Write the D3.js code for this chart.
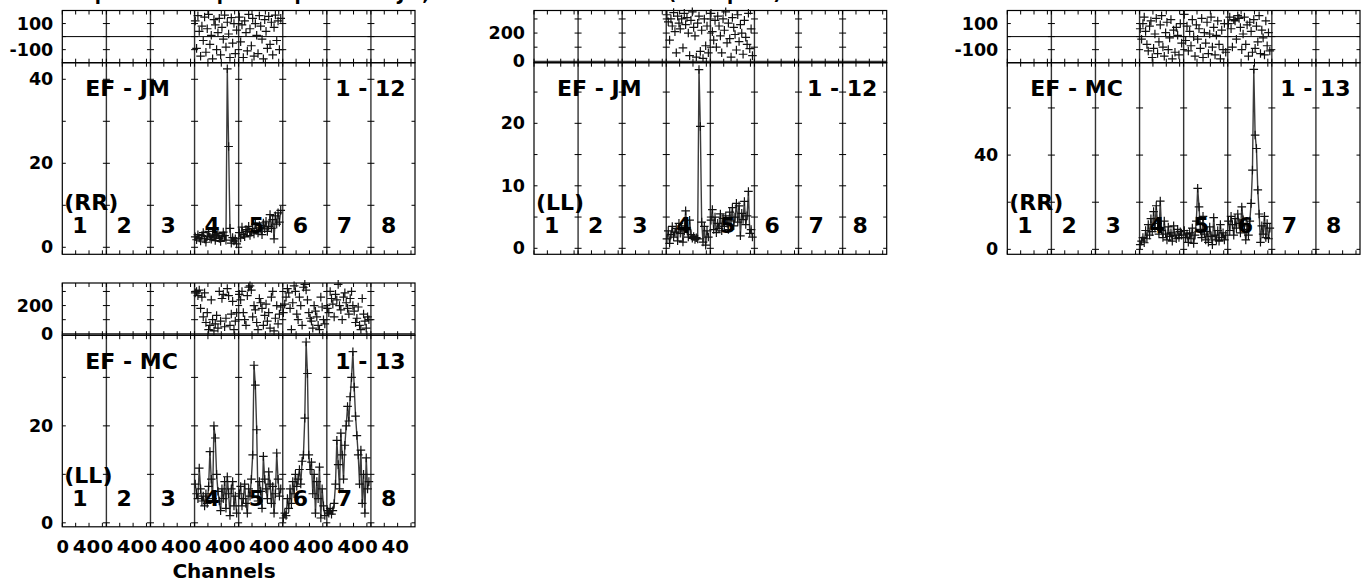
<!DOCTYPE html>
<html><head><meta charset="utf-8">
<script src="https://cdn.jsdelivr.net/npm/d3@7"></script>
<style>
body{margin:0;background:#fff}
svg{display:block}
text{font-family:"DejaVu Sans",sans-serif;font-weight:bold;fill:#000}
</style>
</head><body>
<svg id="c" width="1367" height="583"></svg>
<script>
// ---------- data ----------
const ifNames = ["1","2","3","4","5","6","7","8"];
const channels = [1,3,5,7,9,11,13,15,17,19,21,23,25,27,29,31,33,35,37,39,41,43,45,47,49,51,53,55,57,59,61,63];
const chTicks = [0,20,40,60];
const chTickLabels = [0,40];

// EF - JM  (RR)
const jmRR_amp4 = [2.5,1.8,3.0,2.2,1.5,2.8,3.5,2.0,1.2,2.6,3.8,2.4,1.9,3.1,2.7,1.6,2.9,3.3,2.1,1.4,2.5,3.6,2.8,1.7,42.5,24.0,4.5,1.0,2.3,1.5,2.0,0.8];
const jmRR_amp5 = [3.5,2.2,4.8,3.0,2.5,4.2,3.8,5.0,2.8,3.6,4.5,3.2,5.5,4.0,3.4,5.2,4.6,3.0,5.8,4.4,6.2,3.8,5.0,7.8,4.5,6.6,2.0,7.5,5.5,8.2,6.0,8.8];
const jmRR_ph4 = [120,-90,160,40,-150,80,-30,150,-120,60,170,-60,10,-170,130,90,-100,30,140,-140,70,-20,165,-80,110,20,-160,145,-50,100,-130,50];
const jmRR_ph5 = [150,-40,90,-160,120,30,-110,170,60,-70,140,-150,100,10,-130,160,80,-20,-170,130,40,-90,155,-60,110,-140,70,165,-30,120,-100,140];

// EF - JM  (LL)
const jmLL_amp4 = [1.5,2.8,0.8,2.2,3.5,1.8,2.6,3.2,1.2,4.0,2.4,3.6,1.0,2.8,6.0,3.0,1.8,4.5,2.2,1.6,1.9,1.4,1.7,1.5,28.6,19.5,4.2,1.0,3.5,0.5,2.8,1.8];
const jmLL_amp5 = [4.5,6.2,3.0,5.0,2.5,4.0,3.2,5.5,2.8,4.8,3.5,5.2,4.0,3.0,5.8,4.4,6.5,3.6,5.0,7.2,4.2,6.8,2.0,5.6,4.6,7.5,3.8,5.2,9.1,2.4,3.0,1.8];
const jmLL_ph4 = [330,280,150,300,250,345,210,60,320,270,230,300,95,340,260,310,200,40,290,350,240,180,30,270,320,70,220,20,300,110,250,60];
const jmLL_ph5 = [340,210,150,290,100,320,250,180,60,300,220,350,130,270,160,30,310,240,190,80,330,140,260,200,50,290,170,120,340,90,230,40];

// EF - MC  (RR)
const mcRR_amp4 = [2.0,3.5,5.0,2.8,8.0,4.5,10.5,6.0,13.0,7.5,16.0,9.0,18.5,11.0,6.5,20.5,8.0,5.0,12.0,6.5,4.0,9.5,5.5,7.0,3.5,10.0,6.0,4.5,8.5,5.0,7.5,6.0];
const mcRR_amp5 = [8.0,5.0,6.5,3.0,7.0,4.5,9.0,2.5,6.0,12.0,25.9,18.0,8.5,5.0,14.0,6.5,4.0,7.5,3.0,9.5,5.5,2.0,13.5,6.0,4.0,8.0,3.5,10.5,5.0,7.0,4.0,6.0];
const mcRR_amp6 = [12.0,8.0,14.0,10.5,6.0,13.0,9.0,15.0,11.0,7.0,18.0,12.5,8.5,4.0,10.0,6.0,12.0,19.5,33.6,76.4,48.5,42.8,25.2,15.0,3.0,10.0,6.5,14.0,5.0,11.0,4.5,9.0];
const mcRR_ph4 = [60,-20,100,150,40,-60,-110,80,120,-160,-90,20,140,-130,-40,90,160,-80,-150,30,110,-100,-10,130,-170,50,-120,70,10,-140,100,-50];
const mcRR_ph5 = [170,-30,80,-110,40,-70,130,0,-150,90,-20,60,-90,140,-160,30,-50,110,-130,20,150,-80,70,-140,10,120,-60,-170,50,-100,100,-120];
const mcRR_ph6 = [100,150,60,-80,130,120,-20,160,140,70,-100,20,150,-60,90,-150,110,40,-120,130,-90,80,-40,160,-130,50,-10,-140,120,-70,30,-110];

// EF - MC  (LL)
const mcLL_amp4 = [8.0,6.0,5.0,11.3,7.0,4.5,5.5,3.5,6.0,4.0,7.5,14.7,9.0,5.0,20.0,17.5,10.0,6.5,4.5,2.5,7.0,5.0,8.5,3.0,9.5,6.0,1.5,7.0,8.5,3.5,5.5,2.0];
const mcLL_amp5 = [6.0,7.5,3.5,5.0,8.0,4.0,2.0,7.0,5.5,9.0,14.0,32.5,28.4,19.2,4.5,8.5,6.5,3.0,13.7,9.0,7.0,5.0,10.5,8.0,4.0,7.5,2.0,6.0,14.4,9.0,5.5,7.0];
const mcLL_amp6 = [1.0,2.0,1.5,5.0,3.0,7.0,4.0,8.5,6.0,10.0,7.5,9.0,11.0,8.0,12.7,14.0,21.6,37.3,30.8,14.0,11.0,12.5,6.0,10.0,2.0,8.5,5.0,11.5,1.0,7.0,3.5,1.5];
const mcLL_amp7 = [2.5,2.0,3.0,1.8,2.5,4.0,8.0,17.0,12.0,7.0,18.5,14.0,9.0,16.0,20.0,24.0,21.0,26.0,30.0,35.3,28.0,22.0,18.0,14.0,8.0,15.0,4.0,10.0,2.0,13.4,7.0,8.5];
const mcLL_ph4 = [290,300,270,310,180,260,120,290,80,150,30,60,240,100,20,70,130,40,300,90,250,280,50,110,320,270,60,140,230,30,90,150];
const mcLL_ph5 = [280,240,300,150,100,60,270,330,340,310,120,200,170,80,30,250,220,180,60,130,210,90,150,40,260,300,20,110,200,70,140,190];
const mcLL_ph6 = [150,210,260,320,290,180,30,220,340,300,140,100,260,200,60,330,350,310,240,150,110,90,40,200,160,120,60,30,260,190,100,70];
const mcLL_ph7 = [180,150,300,250,210,120,280,240,350,200,170,100,260,290,220,180,140,250,300,200,160,80,110,190,60,30,250,140,90,40,120,100];

// axis tick values
const phTicksA = [-100,0,100], phLabelsA = [-100,100];
const phTicksB = [100,200,300], phLabelsB = [0,200];

// ---------- panel table built from the arrays ----------
const panels = [
  {col:0,row:0,base:"EF - JM",rng:"1 - 12",pol:"(RR)",phDom:[-200,200],phT:phTicksA,phL:phLabelsA,zero:0,
   ampDom:[-1.67,43.95],ampT:[0,10,20,30,40],ampL:[0,20,40],
   amp:[[4,jmRR_amp4],[5,jmRR_amp5]],ph:[[4,jmRR_ph4],[5,jmRR_ph5]],xlab:false},
  {col:1,row:0,base:"EF - JM",rng:"1 - 12",pol:"(LL)",phDom:[-10,360],phT:phTicksB,phL:phLabelsB,zero:0,
   ampDom:[-0.96,29.7],ampT:[0,5,10,15,20,25],ampL:[0,10,20],
   amp:[[4,jmLL_amp4],[5,jmLL_amp5]],ph:[[4,jmLL_ph4],[5,jmLL_ph5]],xlab:false},
  {col:2,row:0,base:"EF - MC",rng:"1 - 13",pol:"(RR)",phDom:[-200,200],phT:phTicksA,phL:phLabelsA,zero:0,
   ampDom:[-2.1,79.2],ampT:[0,20,40,60],ampL:[0,40],
   amp:[[4,mcRR_amp4],[5,mcRR_amp5],[6,mcRR_amp6]],ph:[[4,mcRR_ph4],[5,mcRR_ph5],[6,mcRR_ph6]],xlab:false},
  {col:0,row:1,base:"EF - MC",rng:"1 - 13",pol:"(LL)",phDom:[-10,360],phT:phTicksB,phL:phLabelsB,zero:0,
   ampDom:[-0.82,38.7],ampT:[0,10,20,30],ampL:[0,20],
   amp:[[4,mcLL_amp4],[5,mcLL_amp5],[6,mcLL_amp6],[7,mcLL_amp7]],ph:[[4,mcLL_ph4],[5,mcLL_ph5],[6,mcLL_ph6],[7,mcLL_ph7]],xlab:true}
];

// ---------- layout ----------
const colLeft = [62.3, 534, 1007.3];
const rowTop = [10.5, 283];
const W = 352.7, ifW = W/8, phH = 52.2, ampH = 191.6;
const svg = d3.select("#c");

// title line, cut off at the very top edge as in the source plot
svg.append("text").attr("x",62).attr("y",0).attr("font-size",18)
  .text("Amplitude and phase spectra  EF-JM,  EF-MC          Calibrated  data  (bandpass)");

function plus(x,y,s){return `M${x-s},${y}h${2*s}M${x},${y-s}v${2*s}`;}

panels.forEach(p=>{
  const x0 = colLeft[p.col], phTop = rowTop[p.row], ampTop = phTop+phH, ampBot = ampTop+ampH;
  const yPh = d3.scaleLinear().domain(p.phDom).range([ampTop, phTop]);
  const yAmp = d3.scaleLinear().domain(p.ampDom).range([ampBot, ampTop]);
  const xIF = i => d3.scaleLinear().domain([0,66]).range([x0+i*ifW, x0+(i+1)*ifW]);
  const g = svg.append("g");

  // phase zero line
  g.append("line").attr("x1",x0).attr("x2",x0+W).attr("y1",yPh(p.zero)).attr("y2",yPh(p.zero))
    .attr("stroke","#000").attr("stroke-width",1);

  // IF dividers
  for(let k=1;k<8;k++){
    g.append("line").attr("x1",x0+k*ifW).attr("x2",x0+k*ifW).attr("y1",phTop).attr("y2",ampBot)
      .attr("stroke","#333").attr("stroke-width",1.4);
  }
  // y ticks on every IF boundary
  const tk = [];
  for(let k=0;k<=8;k++){
    const bx = x0+k*ifW, l = k>0?3.5:0, r = k<8?3.5:0;
    p.phT.forEach(t=>tk.push(`M${bx-l},${yPh(t)}H${bx+r}`));
    p.ampT.forEach(t=>tk.push(`M${bx-l},${yAmp(t)}H${bx+r}`));
  }
  // x ticks
  for(let i=0;i<8;i++){
    const xs = xIF(i);
    chTicks.forEach(t=>{
      const x = xs(t);
      tk.push(`M${x},${ampBot}v-4`,`M${x},${ampTop}v4`,`M${x},${ampTop}v-4`,`M${x},${phTop}v4`);
    });
  }
  g.append("path").attr("d",tk.join("")).attr("stroke","#000").attr("stroke-width",1).attr("fill","none");

  // frames
  g.append("rect").attr("x",x0).attr("y",phTop).attr("width",W).attr("height",phH)
    .attr("fill","none").attr("stroke","#000").attr("stroke-width",1.2);
  g.append("rect").attr("x",x0).attr("y",ampTop).attr("width",W).attr("height",ampH)
    .attr("fill","none").attr("stroke","#000").attr("stroke-width",1.2);

  // amplitude spectra
  p.amp.forEach(([n,vals])=>{
    const xs = xIF(n-1);
    const line = d3.line().x((d,j)=>xs(channels[j])).y(d=>yAmp(d));
    g.append("path").attr("d",line(vals)).attr("fill","none").attr("stroke","#3c3c3c").attr("stroke-width",1.4);
    g.append("path").attr("d",vals.map((v,j)=>plus(xs(channels[j]),yAmp(v),4.3)).join(""))
      .attr("stroke","#111").attr("stroke-width",1.2).attr("fill","none");
  });
  // phase spectra
  p.ph.forEach(([n,vals])=>{
    const xs = xIF(n-1);
    g.append("path").attr("d",vals.map((v,j)=>plus(xs(channels[j]),yPh(v),4.3)).join(""))
      .attr("stroke","#111").attr("stroke-width",1.2).attr("fill","none");
  });

  // y axis labels
  const axPh = g.append("g").attr("transform",`translate(${x0},0)`)
    .call(d3.axisLeft(yPh).tickValues(p.phL).tickFormat(d=>String(d)).tickSize(0).tickPadding(9));
  const axAmp = g.append("g").attr("transform",`translate(${x0},0)`)
    .call(d3.axisLeft(yAmp).tickValues(p.ampL).tickFormat(d=>String(d)).tickSize(0).tickPadding(9));
  [axPh,axAmp].forEach(a=>{
    a.select(".domain").remove();
    a.attr("font-family","DejaVu Sans").attr("font-size",17.5).attr("font-weight","bold");
    a.selectAll("text").attr("fill","#000");
  });

  // x axis labels
  if(p.xlab){
    for(let i=0;i<8;i++){
      const ax = g.append("g").attr("transform",`translate(0,${ampBot})`)
        .call(d3.axisBottom(xIF(i)).tickValues(chTickLabels).tickFormat(d=>String(d)).tickSize(0).tickPadding(13.5));
      ax.select(".domain").remove();
      ax.attr("font-family","DejaVu Sans").attr("font-size",18.3).attr("font-weight","bold");
      ax.selectAll("text").attr("fill","#000")
        .attr("dx",d=>d===40?-3:0)
        .attr("textLength",d=>d===40?27.5:12.5)
        .attr("lengthAdjust","spacingAndGlyphs");
    }
    svg.append("text").attr("x",224).attr("y",ampBot+51).attr("text-anchor","middle")
      .attr("font-size",20).text("Channels");
  }

  // panel texts
  g.append("text").attr("x",x0+23).attr("y",ampTop+33.5).attr("font-size",22).text(p.base);
  g.append("text").attr("x",x0+273).attr("y",ampTop+33.5).attr("font-size",22).text(p.rng);
  g.append("text").attr("x",x0+2).attr("y",ampBot-44).attr("font-size",22).text(p.pol);
  ifNames.forEach((nm,i)=>{
    g.append("text").attr("x",x0+i*ifW+10).attr("y",ampBot-21).attr("font-size",22).text(nm);
  });
});
</script>
</body></html>
